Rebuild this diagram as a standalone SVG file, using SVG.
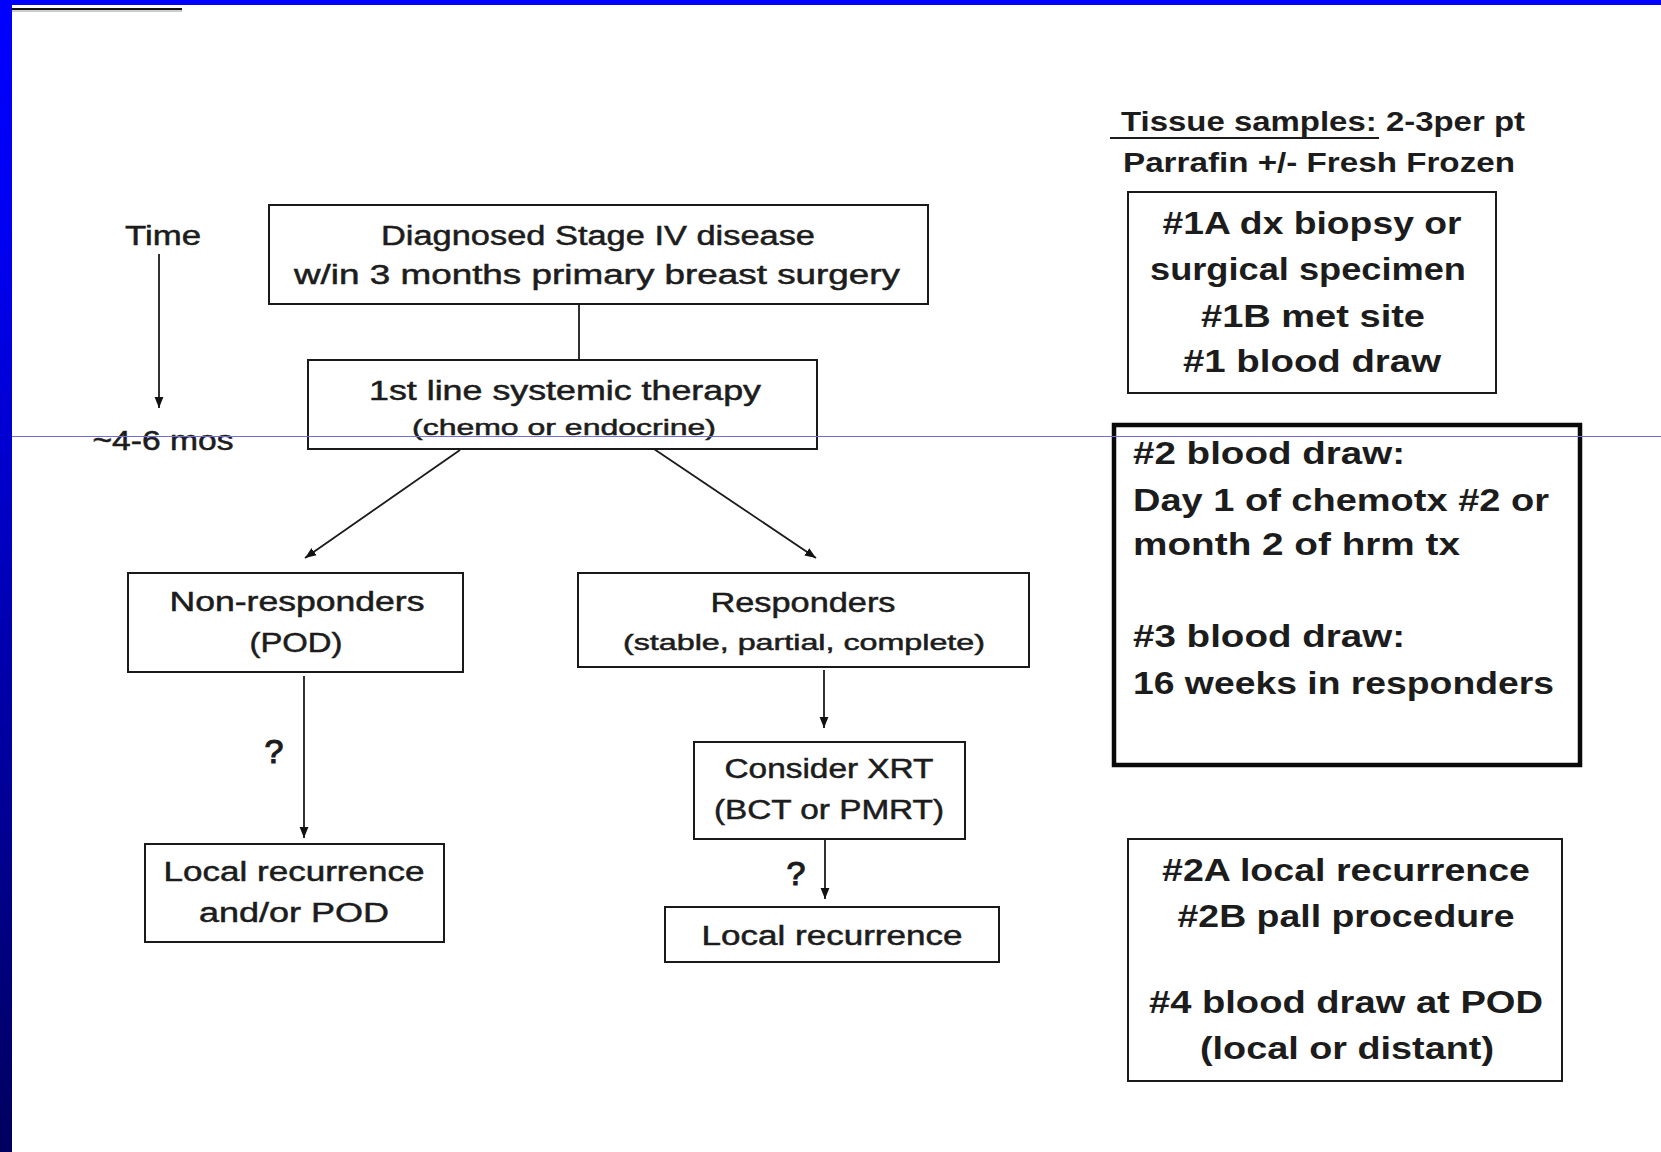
<svg xmlns="http://www.w3.org/2000/svg" width="1661" height="1152" viewBox="0 0 1661 1152">
<defs>
<linearGradient id="sideGrad" x1="0" y1="0" x2="0" y2="1">
<stop offset="0" stop-color="#0000ff"/>
<stop offset="0.2" stop-color="#0000f2"/>
<stop offset="1" stop-color="#00005e"/>
</linearGradient>
<marker id="arrL" viewBox="0 0 10 10" refX="10" refY="5" markerWidth="11" markerHeight="11" orient="auto" markerUnits="userSpaceOnUse">
<path d="M0,1 L10,5 L0,9 z" fill="#111"/>
</marker>
</defs>
<style>
.box{fill:none;stroke:#1a1a1a;stroke-width:2}
.thick{fill:none;stroke:#0a0a0a;stroke-width:4.5}
.t{font-family:"Liberation Sans",Arial,sans-serif;fill:#1c1c1c;font-size:27px;stroke:#1c1c1c;stroke-width:0.5;text-anchor:middle}
.s{font-size:22px}
.q{font-size:34px;stroke-width:1.2}
.r{font-family:"Liberation Sans",Arial,sans-serif;fill:#1c1c1c;font-size:31px;font-weight:bold;text-anchor:middle}
.h{font-size:27px}
.l{text-anchor:start}
.c{stroke:#1a1a1a;stroke-width:1.8;fill:none}
</style>
<rect x="0" y="0" width="1661" height="1152" fill="#ffffff"/>
<rect x="0" y="0" width="1661" height="5" fill="#0000ff"/>
<rect x="0" y="0" width="12" height="1152" fill="url(#sideGrad)"/>
<line x1="12" y1="9" x2="182" y2="9" stroke="#111" stroke-width="2"/>
<line x1="12" y1="11" x2="182" y2="11" stroke="#bbb" stroke-width="1.5"/>

<g id="time">
<text class="t" x="163" y="245" textLength="76" lengthAdjust="spacingAndGlyphs">Time</text>
<text class="t" x="163" y="450" textLength="141" lengthAdjust="spacingAndGlyphs">~4-6 mos</text>
</g>

<g id="n-diagnosed">
<rect class="box" x="269" y="205" width="659" height="99"/>
<text class="t" x="598" y="245" textLength="434" lengthAdjust="spacingAndGlyphs">Diagnosed Stage IV disease</text>
<text class="t" x="597" y="284" textLength="606" lengthAdjust="spacingAndGlyphs">w/in 3 months primary breast surgery</text>
</g>

<g id="n-firstline">
<rect class="box" x="308" y="360" width="509" height="89"/>
<text class="t" x="565" y="400" textLength="392" lengthAdjust="spacingAndGlyphs">1st line systemic therapy</text>
<text class="t s" x="564" y="435" textLength="304" lengthAdjust="spacingAndGlyphs">(chemo or endocrine)</text>
</g>

<g id="n-nonresp">
<rect class="box" x="128" y="573" width="335" height="99"/>
<text class="t" x="297" y="611" textLength="255" lengthAdjust="spacingAndGlyphs">Non-responders</text>
<text class="t" x="296" y="652" textLength="93" lengthAdjust="spacingAndGlyphs">(POD)</text>
</g>

<g id="n-resp">
<rect class="box" x="578" y="573" width="451" height="94"/>
<text class="t" x="803" y="612" textLength="185" lengthAdjust="spacingAndGlyphs">Responders</text>
<text class="t s" x="804" y="650" textLength="362" lengthAdjust="spacingAndGlyphs">(stable, partial, complete)</text>
</g>

<g id="n-xrt">
<rect class="box" x="694" y="742" width="271" height="97"/>
<text class="t" x="829" y="778" textLength="209" lengthAdjust="spacingAndGlyphs">Consider XRT</text>
<text class="t" x="829" y="819" textLength="230" lengthAdjust="spacingAndGlyphs">(BCT or PMRT)</text>
</g>

<g id="n-localpod">
<rect class="box" x="145" y="844" width="299" height="98"/>
<text class="t" x="294" y="881" textLength="261" lengthAdjust="spacingAndGlyphs">Local recurrence</text>
<text class="t" x="294" y="922" textLength="190" lengthAdjust="spacingAndGlyphs">and/or POD</text>
</g>

<g id="n-local">
<rect class="box" x="665" y="907" width="334" height="55"/>
<text class="t" x="832" y="945" textLength="261" lengthAdjust="spacingAndGlyphs">Local recurrence</text>
</g>

<g id="connectors">
<line class="c" x1="579" y1="304" x2="579" y2="360"/>
<line class="c" x1="159" y1="254" x2="159" y2="408" marker-end="url(#arrL)"/>
<line class="c" x1="460" y1="450" x2="305" y2="558" marker-end="url(#arrL)"/>
<line class="c" x1="654" y1="449" x2="816" y2="558" marker-end="url(#arrL)"/>
<line class="c" x1="304" y1="676" x2="304" y2="838" marker-end="url(#arrL)"/>
<line class="c" x1="824" y1="670" x2="824" y2="728" marker-end="url(#arrL)"/>
<line class="c" x1="825" y1="840" x2="825" y2="899" marker-end="url(#arrL)"/>
<text class="t q" x="274" y="763">?</text>
<text class="t q" x="796" y="885">?</text>
</g>

<g id="tissue-header">
<text class="r h" x="1323" y="131" textLength="404" lengthAdjust="spacingAndGlyphs">Tissue samples: 2-3per pt</text>
<line x1="1110" y1="138" x2="1379" y2="138" stroke="#1c1c1c" stroke-width="2"/>
<text class="r h" x="1319" y="172" textLength="392" lengthAdjust="spacingAndGlyphs">Parrafin +/- Fresh Frozen</text>
</g>

<g id="n-sample1">
<rect class="box" x="1128" y="192" width="368" height="201"/>
<text class="r" x="1312" y="234" textLength="299" lengthAdjust="spacingAndGlyphs">#1A dx biopsy or</text>
<text class="r" x="1308" y="280" textLength="316" lengthAdjust="spacingAndGlyphs">surgical specimen</text>
<text class="r" x="1313" y="327" textLength="224" lengthAdjust="spacingAndGlyphs">#1B met site</text>
<text class="r" x="1312" y="372" textLength="258" lengthAdjust="spacingAndGlyphs">#1 blood draw</text>
</g>

<g id="n-blood23">
<rect class="thick" x="1114" y="425" width="466" height="340"/>
<text class="r l" x="1133" y="464" textLength="272" lengthAdjust="spacingAndGlyphs">#2 blood draw:</text>
<text class="r l" x="1133" y="511" textLength="416" lengthAdjust="spacingAndGlyphs">Day 1 of chemotx #2 or</text>
<text class="r l" x="1133" y="555" textLength="327" lengthAdjust="spacingAndGlyphs">month 2 of hrm tx</text>
<text class="r l" x="1133" y="647" textLength="272" lengthAdjust="spacingAndGlyphs">#3 blood draw:</text>
<text class="r l" x="1133" y="694" textLength="421" lengthAdjust="spacingAndGlyphs">16 weeks in responders</text>
</g>

<g id="n-sample4">
<rect class="box" x="1128" y="839" width="434" height="242"/>
<text class="r" x="1346" y="881" textLength="368" lengthAdjust="spacingAndGlyphs">#2A local recurrence</text>
<text class="r" x="1346" y="927" textLength="337" lengthAdjust="spacingAndGlyphs">#2B pall procedure</text>
<text class="r" x="1346" y="1013" textLength="394" lengthAdjust="spacingAndGlyphs">#4 blood draw at POD</text>
<text class="r" x="1347" y="1059" textLength="294" lengthAdjust="spacingAndGlyphs">(local or distant)</text>
</g>

<line x1="12" y1="436.5" x2="1661" y2="436.5" stroke="#6f6fd6" stroke-width="1.2"/>
</svg>
